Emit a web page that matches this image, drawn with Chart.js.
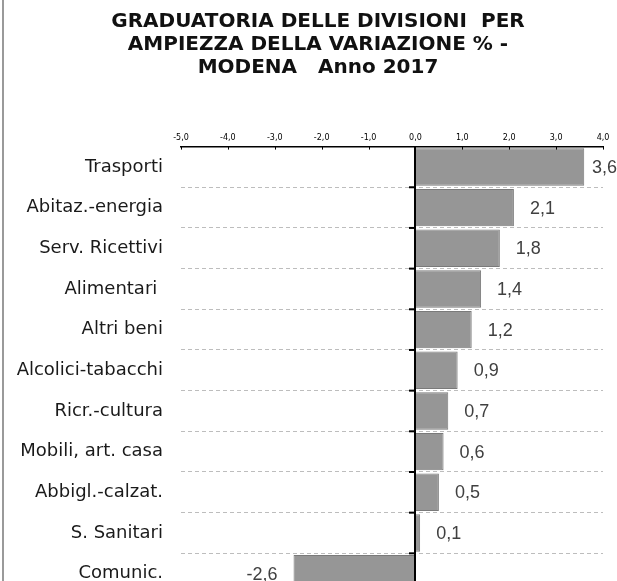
<!DOCTYPE html>
<html>
<head>
<meta charset="utf-8">
<script src="https://cdn.jsdelivr.net/npm/chart.js@4/dist/chart.umd.min.js"></script>
<style>
  html, body { margin: 0; padding: 0; background: #fff; overflow: hidden; }
  #wrap { position: relative; width: 617px; height: 581px; overflow: hidden; }
  #edge { position: absolute; left: 2px; top: 0; width: 2px; height: 581px; background: #9a9a9a; }
  canvas { display: block; }
</style>
</head>
<body>
<div id="wrap">
  <canvas id="chart" width="617" height="600"></canvas>
  <div id="edge"></div>
</div>
<script>
// categories and values (variazione % 2017, Modena)
const categories = [
  "Trasporti", "Abitaz.-energia", "Serv. Ricettivi", "Alimentari ", "Altri beni",
  "Alcolici-tabacchi", "Ricr.-cultura", "Mobili, art. casa", "Abbigl.-calzat.",
  "S. Sanitari", "Comunic."
];
const variazione = [3.6, 2.1, 1.8, 1.4, 1.2, 0.9, 0.7, 0.6, 0.5, 0.1, -2.6];
const xTicks = [-5, -4, -3, -2, -1, 0, 1, 2, 3, 4];
const titleLines = [
  "GRADUATORIA DELLE DIVISIONI  PER",
  "AMPIEZZA DELLA VARIAZIONE % -",
  "MODENA   Anno 2017"
];

const fmt = (v) => v.toFixed(1).replace(".", ",");

// title is centred a bit right of the canvas middle, like the original
const titlePlugin = {
  id: "titleText",
  afterDraw(chart) {
    const ctx = chart.ctx;
    ctx.save();
    ctx.font = "bold 20px 'DejaVu Sans', Verdana, sans-serif";
    ctx.fillStyle = "#111";
    ctx.textAlign = "center";
    ctx.textBaseline = "middle";
    titleLines.forEach((t, i) => ctx.fillText(t, 318, 22 + i * 23));
    ctx.restore();
  }
};

// zero line, small tick marks and value labels drawn on top of the bars
const overlay = {
  id: "overlay",
  afterDatasetsDraw(chart) {
    const { ctx, chartArea: a, scales: { x, y } } = chart;
    const x0 = Math.round(x.getPixelForValue(0));
    ctx.save();
    ctx.strokeStyle = "#000";
    ctx.lineWidth = 2;
    ctx.beginPath();
    ctx.moveTo(x0, a.top);
    ctx.lineTo(x0, a.bottom);
    ctx.stroke();

    // ticks on the zero line at category boundaries
    for (let i = 1; i < categories.length; i++) {
      const yy = (y.getPixelForValue(i - 1) + y.getPixelForValue(i)) / 2;
      ctx.beginPath();
      ctx.moveTo(x0 - 6, yy);
      ctx.lineTo(x0, yy);
      ctx.stroke();
    }
    // inward ticks on the top axis
    ctx.lineWidth = 1;
    xTicks.forEach((t) => {
      const xx = Math.round(x.getPixelForValue(t)) + 0.5;
      ctx.beginPath();
      ctx.moveTo(xx, a.top);
      ctx.lineTo(xx, a.top + 3);
      ctx.stroke();
    });

    // value labels
    ctx.font = "18px 'Liberation Sans', Arial, sans-serif";
    ctx.fillStyle = "#404040";
    ctx.textBaseline = "middle";
    const meta = chart.getDatasetMeta(0);
    meta.data.forEach((bar, i) => {
      const v = variazione[i];
      const txt = fmt(v);
      const w = ctx.measureText(txt).width;
      if (v >= 0) {
        let px = bar.x + 16;
        if (px + w > chart.width) px = chart.width - w;
        ctx.textAlign = "left";
        ctx.fillText(txt, px, bar.y + 1);
      } else {
        ctx.textAlign = "right";
        ctx.fillText(txt, bar.x - 16, bar.y + 1);
      }
    });
    ctx.restore();
  }
};

new Chart(document.getElementById("chart"), {
  type: "bar",
  data: {
    labels: categories,
    datasets: [{
      data: variazione,
      backgroundColor: "#969696",
      borderColor: "#7a7a7a",
      borderWidth: 1,
      barPercentage: 0.92,
      categoryPercentage: 1
    }]
  },
  options: {
    indexAxis: "y",
    responsive: false,
    animation: false,
    layout: { padding: { top: 129, left: 0, right: 14, bottom: 6 } },
    plugins: {
      legend: { display: false },
      tooltip: { enabled: false },
      title: { display: false }
    },
    scales: {
      x: {
        position: "top",
        min: -5,
        max: 4,
        afterBuildTicks: (s) => { s.ticks = xTicks.map((v) => ({ value: v })); },
        grid: { display: false, drawTicks: false },
        border: { display: true, color: "#000", width: 1.5 },
        ticks: {
          padding: 4,
          color: "#000",
          font: { family: "'DejaVu Sans', sans-serif", size: 8 },
          callback: (v) => fmt(v)
        }
      },
      y: {
        afterFit: (s) => { s.width = 181; s.paddingTop = 0; s.paddingBottom = 0; },
        grid: { color: "#bdbdbd", lineWidth: 1, drawTicks: false, offset: true },
        border: { display: false, dash: [4, 3] },
        ticks: {
          padding: 18,
          color: "#1a1a1a",
          font: { family: "'DejaVu Sans', Tahoma, sans-serif", size: 18 }
        }
      }
    }
  },
  plugins: [overlay, titlePlugin]
});
</script>
</body>
</html>
